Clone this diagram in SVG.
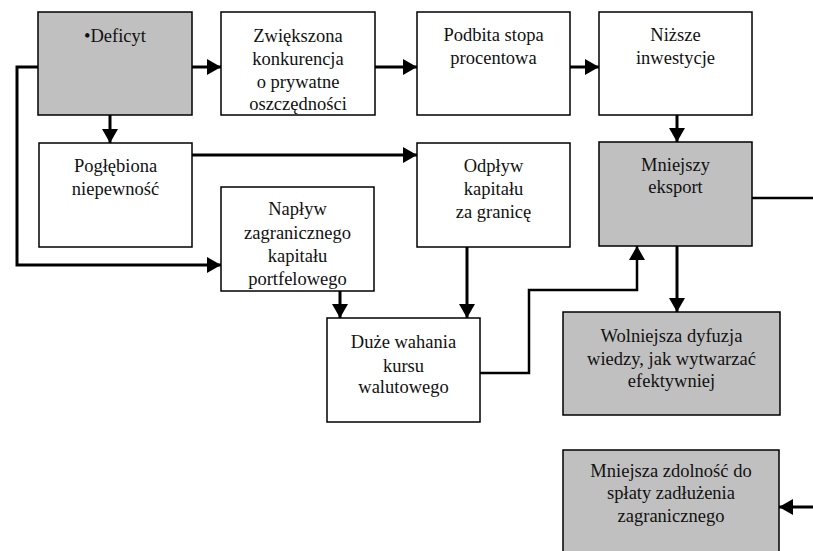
<svg xmlns="http://www.w3.org/2000/svg" width="813" height="551" viewBox="0 0 813 551">
  <style>
    .box { fill: #ffffff; stroke: #000000; stroke-width: 1.5; }
    .box.grey { fill: #c0c0c0; }
    .label { font-family: "Liberation Serif", "Times New Roman", serif; font-size: 18.5px; fill: #111111; text-anchor: middle; }
    .wire { fill: none; stroke: #000000; stroke-width: 3; }
    .wire.thin { stroke-width: 2.5; }
    .arrow { marker-end: url(#head); }
  </style>
  <defs>
    <marker id="head" viewBox="0 0 14 16" refX="14" refY="8" markerWidth="14" markerHeight="16" markerUnits="userSpaceOnUse" orient="auto">
      <path d="M0,0 L14,8 L0,16 z" fill="#000000"/>
    </marker>
  </defs>

  <!-- connectors -->
  <g id="connectors">
    <path class="wire arrow" d="M192,67 H221"/>
    <path class="wire arrow" d="M375,67 H417"/>
    <path class="wire arrow" d="M570,67 H599"/>
    <path class="wire arrow" d="M38,67 H17 V265 H221"/>
    <path class="wire arrow" d="M110,115 V143"/>
    <path class="wire arrow" d="M192,155 H417"/>
    <path class="wire arrow" d="M677,115 V142"/>
    <path class="wire thin" d="M752,198 H813"/>
    <path class="wire arrow" d="M677,246 V312"/>
    <path class="wire arrow" d="M340,291 V318"/>
    <path class="wire arrow" d="M467,247 V318"/>
    <path class="wire thin arrow" d="M480,373 H529 V290 H637 V246"/>
    <path class="wire arrow" d="M813,507 H779"/>
  </g>

  <!-- nodes -->
  <g id="deficyt">
    <rect class="box grey" x="38" y="12" width="154" height="103"/>
    <text class="label" x="115" y="42">•Deficyt</text>
  </g>
  <g id="konkurencja">
    <rect class="box" x="221" y="12" width="154" height="103"/>
    <text class="label" x="298" y="42">Zwiększona</text>
    <text class="label" x="298" y="65">konkurencja</text>
    <text class="label" x="298" y="88">o prywatne</text>
    <text class="label" x="298" y="110">oszczędności</text>
  </g>
  <g id="stopa">
    <rect class="box" x="417" y="12" width="153" height="103"/>
    <text class="label" x="493.5" y="41">Podbita stopa</text>
    <text class="label" x="493.5" y="64">procentowa</text>
  </g>
  <g id="inwestycje">
    <rect class="box" x="599" y="12" width="153" height="103"/>
    <text class="label" x="675.5" y="41">Niższe</text>
    <text class="label" x="675.5" y="64">inwestycje</text>
  </g>
  <g id="niepewnosc">
    <rect class="box" x="39" y="143" width="153" height="104"/>
    <text class="label" x="115.5" y="172">Pogłębiona</text>
    <text class="label" x="115.5" y="195">niepewność</text>
  </g>
  <g id="naplyw">
    <rect class="box" x="221" y="187" width="153" height="104"/>
    <text class="label" x="297.5" y="215">Napływ</text>
    <text class="label" x="297.5" y="239">zagranicznego</text>
    <text class="label" x="297.5" y="262">kapitału</text>
    <text class="label" x="297.5" y="285">portfelowego</text>
  </g>
  <g id="odplyw">
    <rect class="box" x="417" y="143" width="153" height="104"/>
    <text class="label" x="493.5" y="172">Odpływ</text>
    <text class="label" x="493.5" y="195">kapitału</text>
    <text class="label" x="493.5" y="218">za granicę</text>
  </g>
  <g id="eksport">
    <rect class="box grey" x="599" y="142" width="153" height="104"/>
    <text class="label" x="675.5" y="171">Mniejszy</text>
    <text class="label" x="675.5" y="193">eksport</text>
  </g>
  <g id="kurs">
    <rect class="box" x="327" y="318" width="153" height="104"/>
    <text class="label" x="403.5" y="348">Duże wahania</text>
    <text class="label" x="403.5" y="372">kursu</text>
    <text class="label" x="403.5" y="393">walutowego</text>
  </g>
  <g id="dyfuzja">
    <rect class="box grey" x="563" y="312" width="217" height="103"/>
    <text class="label" x="671.5" y="342">Wolniejsza dyfuzja</text>
    <text class="label" x="671.5" y="365">wiedzy, jak wytwarzać</text>
    <text class="label" x="671.5" y="387">efektywniej</text>
  </g>
  <g id="zadluzenie">
    <rect class="box grey" x="563" y="450" width="216" height="110"/>
    <text class="label" x="671" y="477">Mniejsza zdolność do</text>
    <text class="label" x="671" y="499">spłaty zadłużenia</text>
    <text class="label" x="671" y="522">zagranicznego</text>
  </g>
</svg>
